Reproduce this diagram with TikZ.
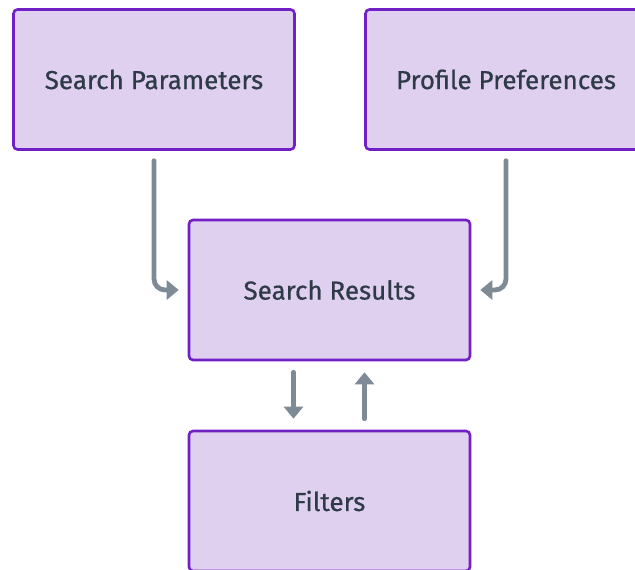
\documentclass[tikz,border=0pt]{standalone}
\usepackage{fontspec}
\setmainfont{Fira Sans}[FakeBold=0.6]
\usepackage{tikz}
\usetikzlibrary{arrows.meta, positioning, calc}
\definecolor{boxfill}{HTML}{E0D0F0}
\definecolor{boxline}{HTML}{7020C4}
\definecolor{flowgray}{HTML}{7E8A96}
\definecolor{labeltext}{HTML}{2E3A48}

\begin{document}
\begin{tikzpicture}[x=1pt, y=1pt,
  panel/.style={draw=boxline, fill=boxfill, line width=2.6pt, rounded corners=4pt,
    minimum width=281pt, minimum height=140pt, inner sep=0pt,
    font=\fontsize{26}{29}\selectfont, text=labeltext},
  flow/.style={draw=flowgray, line width=4.8pt, line cap=round, rounded corners=11pt,
    -{Triangle[length=12pt, width=19pt]}}]
  \useasboundingbox (0,0) rectangle (635,570);
  % upper row
  \node[panel] (params) at (154,490.5) {Search Parameters};
  \node[panel] (prefs) at (506,490.5) {Profile Preferences};
  % middle and bottom
  \node[panel] (results) at (329.5,280) {Search Results};
  \node[panel] (filters) at (329.5,69) {Filters};
  % inputs into results
  \draw[flow, shorten <=10pt, shorten >=9pt] (params.south) |- (results.west);
  \draw[flow, shorten <=10pt, shorten >=9pt] (prefs.south) |- (results.east);
  % results <-> filters
  \draw[flow, shorten <=11pt, shorten >=11pt] ([xshift=-36pt]results.south) -- ([xshift=-36pt]filters.north);
  \draw[flow, shorten <=11pt, shorten >=11pt] ([xshift=35pt]filters.north) -- ([xshift=35pt]results.south);
\end{tikzpicture}
\end{document}
